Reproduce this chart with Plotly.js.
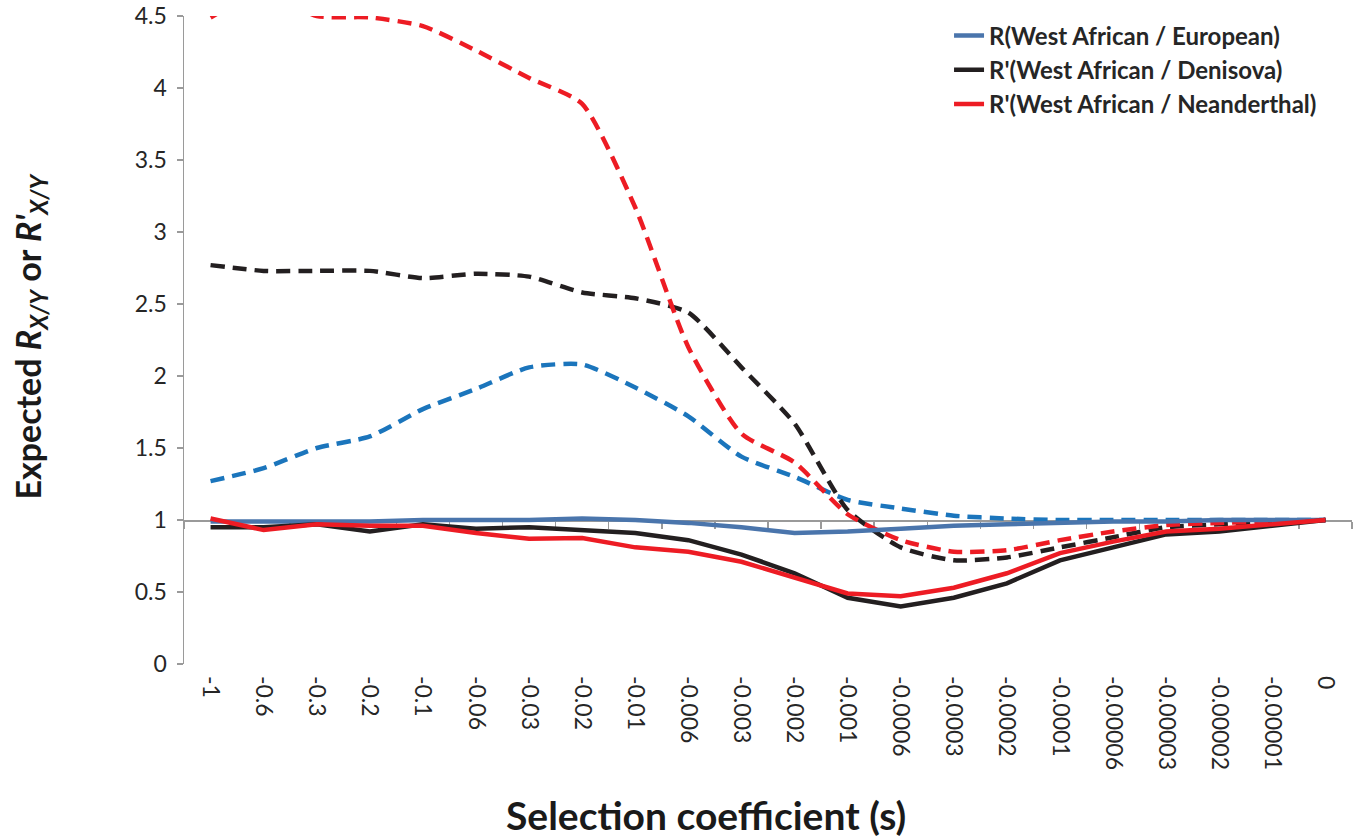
<!DOCTYPE html>
<html>
<head>
<meta charset="utf-8">
<script src="https://cdn.plot.ly/plotly-3.0.1.min.js"></script>
<style>html,body{margin:0;padding:0;background:#fff;}#chart{width:1360px;height:838px;}</style>
</head>
<body>
<div id="chart"></div>
<script>
const categories = ["-1","-0.6","-0.3","-0.2","-0.1","-0.06","-0.03","-0.02","-0.01","-0.006","-0.003","-0.002","-0.001","-0.0006","-0.0003","-0.0002","-0.0001","-0.00006","-0.00003","-0.00002","-0.00001","0"];

const europeanSolid   = [0.99,0.99,0.99,0.99,1.00,1.00,1.00,1.01,1.00,0.98,0.95,0.91,0.92,0.94,0.96,0.97,0.98,0.99,0.99,1.00,1.00,1.00];
const denisovaSolid   = [0.95,0.95,0.97,0.92,0.97,0.94,0.95,0.93,0.91,0.86,0.76,0.63,0.46,0.40,0.46,0.56,0.72,0.81,0.90,0.92,0.96,1.00];
const neanderSolid    = [1.01,0.93,0.97,0.96,0.96,0.91,0.87,0.875,0.81,0.78,0.71,0.60,0.49,0.47,0.53,0.63,0.77,0.85,0.92,0.94,0.97,1.00];

const europeanDashed  = [1.27,1.36,1.50,1.58,1.77,1.91,2.06,2.08,1.92,1.72,1.44,1.30,1.14,1.08,1.03,1.01,1.00,1.00,1.00,1.00,1.00,1.00];
const denisovaDashed  = [2.77,2.73,2.73,2.73,2.68,2.71,2.69,2.58,2.54,2.44,2.06,1.67,1.07,0.81,0.72,0.74,0.81,0.88,0.95,0.97,0.99,1.00];
const neanderDashed   = [4.49,4.66,4.50,4.49,4.43,4.26,4.07,3.89,3.17,2.20,1.60,1.40,1.04,0.86,0.78,0.79,0.86,0.92,0.965,0.98,0.99,1.00];

const legendNames = ["R(West African / European)","R'(West African / Denisova)","R'(West African / Neanderthal)"];

const cBlue = "#4A75AC", cBlueDash = "#1B75BC", cBlack = "#231F20", cRed = "#ED1C24";
const dashStyle = "14px,8px";

const traces = [
  // carrier for the x-axis line drawn through y = 1 (invisible)
  {x: categories, y: europeanSolid, xaxis: "x2", mode: "lines", line: {width: 0, color: "rgba(0,0,0,0)"}, showlegend: false, hoverinfo: "skip"},
  {x: categories, y: europeanDashed, mode: "lines", line: {color: cBlueDash, width: 4.5, dash: dashStyle, shape: "spline", smoothing: 0.6}, showlegend: false, hoverinfo: "skip"},
  {x: categories, y: denisovaDashed, mode: "lines", line: {color: cBlack, width: 4.5, dash: dashStyle, shape: "spline", smoothing: 0.6}, showlegend: false, hoverinfo: "skip"},
  {x: categories, y: neanderDashed, mode: "lines", line: {color: cRed, width: 4.5, dash: dashStyle, shape: "spline", smoothing: 0.6}, showlegend: false, hoverinfo: "skip"},
  {x: categories, y: europeanSolid, name: legendNames[0], legendgroup: "a", mode: "lines", line: {color: cBlue, width: 4.5}},
  {x: categories, y: denisovaSolid, name: legendNames[1], legendgroup: "b", mode: "lines", line: {color: cBlack, width: 4.5}},
  {x: categories, y: neanderSolid, name: legendNames[2], legendgroup: "c", mode: "lines", line: {color: cRed, width: 4.5}}
];

const fontFam = "Lato, 'Open Sans', sans-serif";

const layout = {
  width: 1360, height: 838,
  margin: {l: 184, r: 8, t: 16, b: 174},
  paper_bgcolor: "#fff", plot_bgcolor: "#fff",
  font: {family: fontFam, color: "#262626"},
  showlegend: true,
  legend: {
    x: 0.655, xanchor: "left", y: 1.004, yanchor: "top",
    font: {family: fontFam, size: 24, color: "#262626", weight: "bold"},
    bgcolor: "rgba(0,0,0,0)", borderwidth: 0,
    traceorder: "grouped", tracegroupgap: 0
  },
  xaxis: {
    type: "category", categoryorder: "array", categoryarray: categories,
    range: [-0.5, 21.5],
    showline: false, showgrid: false, zeroline: false,
    ticks: "", tickangle: 90,
    tickfont: {family: fontFam, size: 23, color: "#262626"},
    ticklabelstandoff: 11
  },
  xaxis2: {
    type: "category", categoryorder: "array", categoryarray: categories,
    range: [-0.5, 21.5],
    overlaying: "x", anchor: "free", position: 1/4.5,
    showline: true, linecolor: "#9a9a9a", linewidth: 1.5,
    ticks: "outside", tickson: "boundaries", ticklen: 7, tickcolor: "#9a9a9a", tickwidth: 1.5,
    showticklabels: false, showgrid: false, zeroline: false, layer: "below traces"
  },
  yaxis: {
    range: [0, 4.5], dtick: 0.5, tick0: 0,
    showline: true, linecolor: "#9a9a9a", linewidth: 1.5,
    ticks: "outside", ticklen: 6, tickcolor: "#9a9a9a", tickwidth: 1.5,
    showgrid: false, zeroline: false,
    tickfont: {family: fontFam, size: 23, color: "#262626"},
    ticklabelstandoff: 5
  },
  annotations: [
    {text: "<b>Expected <i>R</i><sub><i>X/Y</i></sub> or <i>R'</i><sub><i>X/Y</i></sub></b>",
     xref: "paper", yref: "paper", x: -0.132, y: 0.505, xanchor: "center", yanchor: "middle",
     textangle: -90, showarrow: false, font: {family: fontFam, size: 34, color: "#1a1a1a"}},
    {text: "<b>Selection coefficient (s)</b>",
     xref: "paper", yref: "paper", x: 0.447, y: -0.233, xanchor: "center", yanchor: "middle",
     showarrow: false, font: {family: fontFam, size: 39, color: "#1a1a1a"}}
  ]
};

Plotly.newPlot("chart", traces, layout, {displayModeBar: false, staticPlot: true});
</script>
</body>
</html>
